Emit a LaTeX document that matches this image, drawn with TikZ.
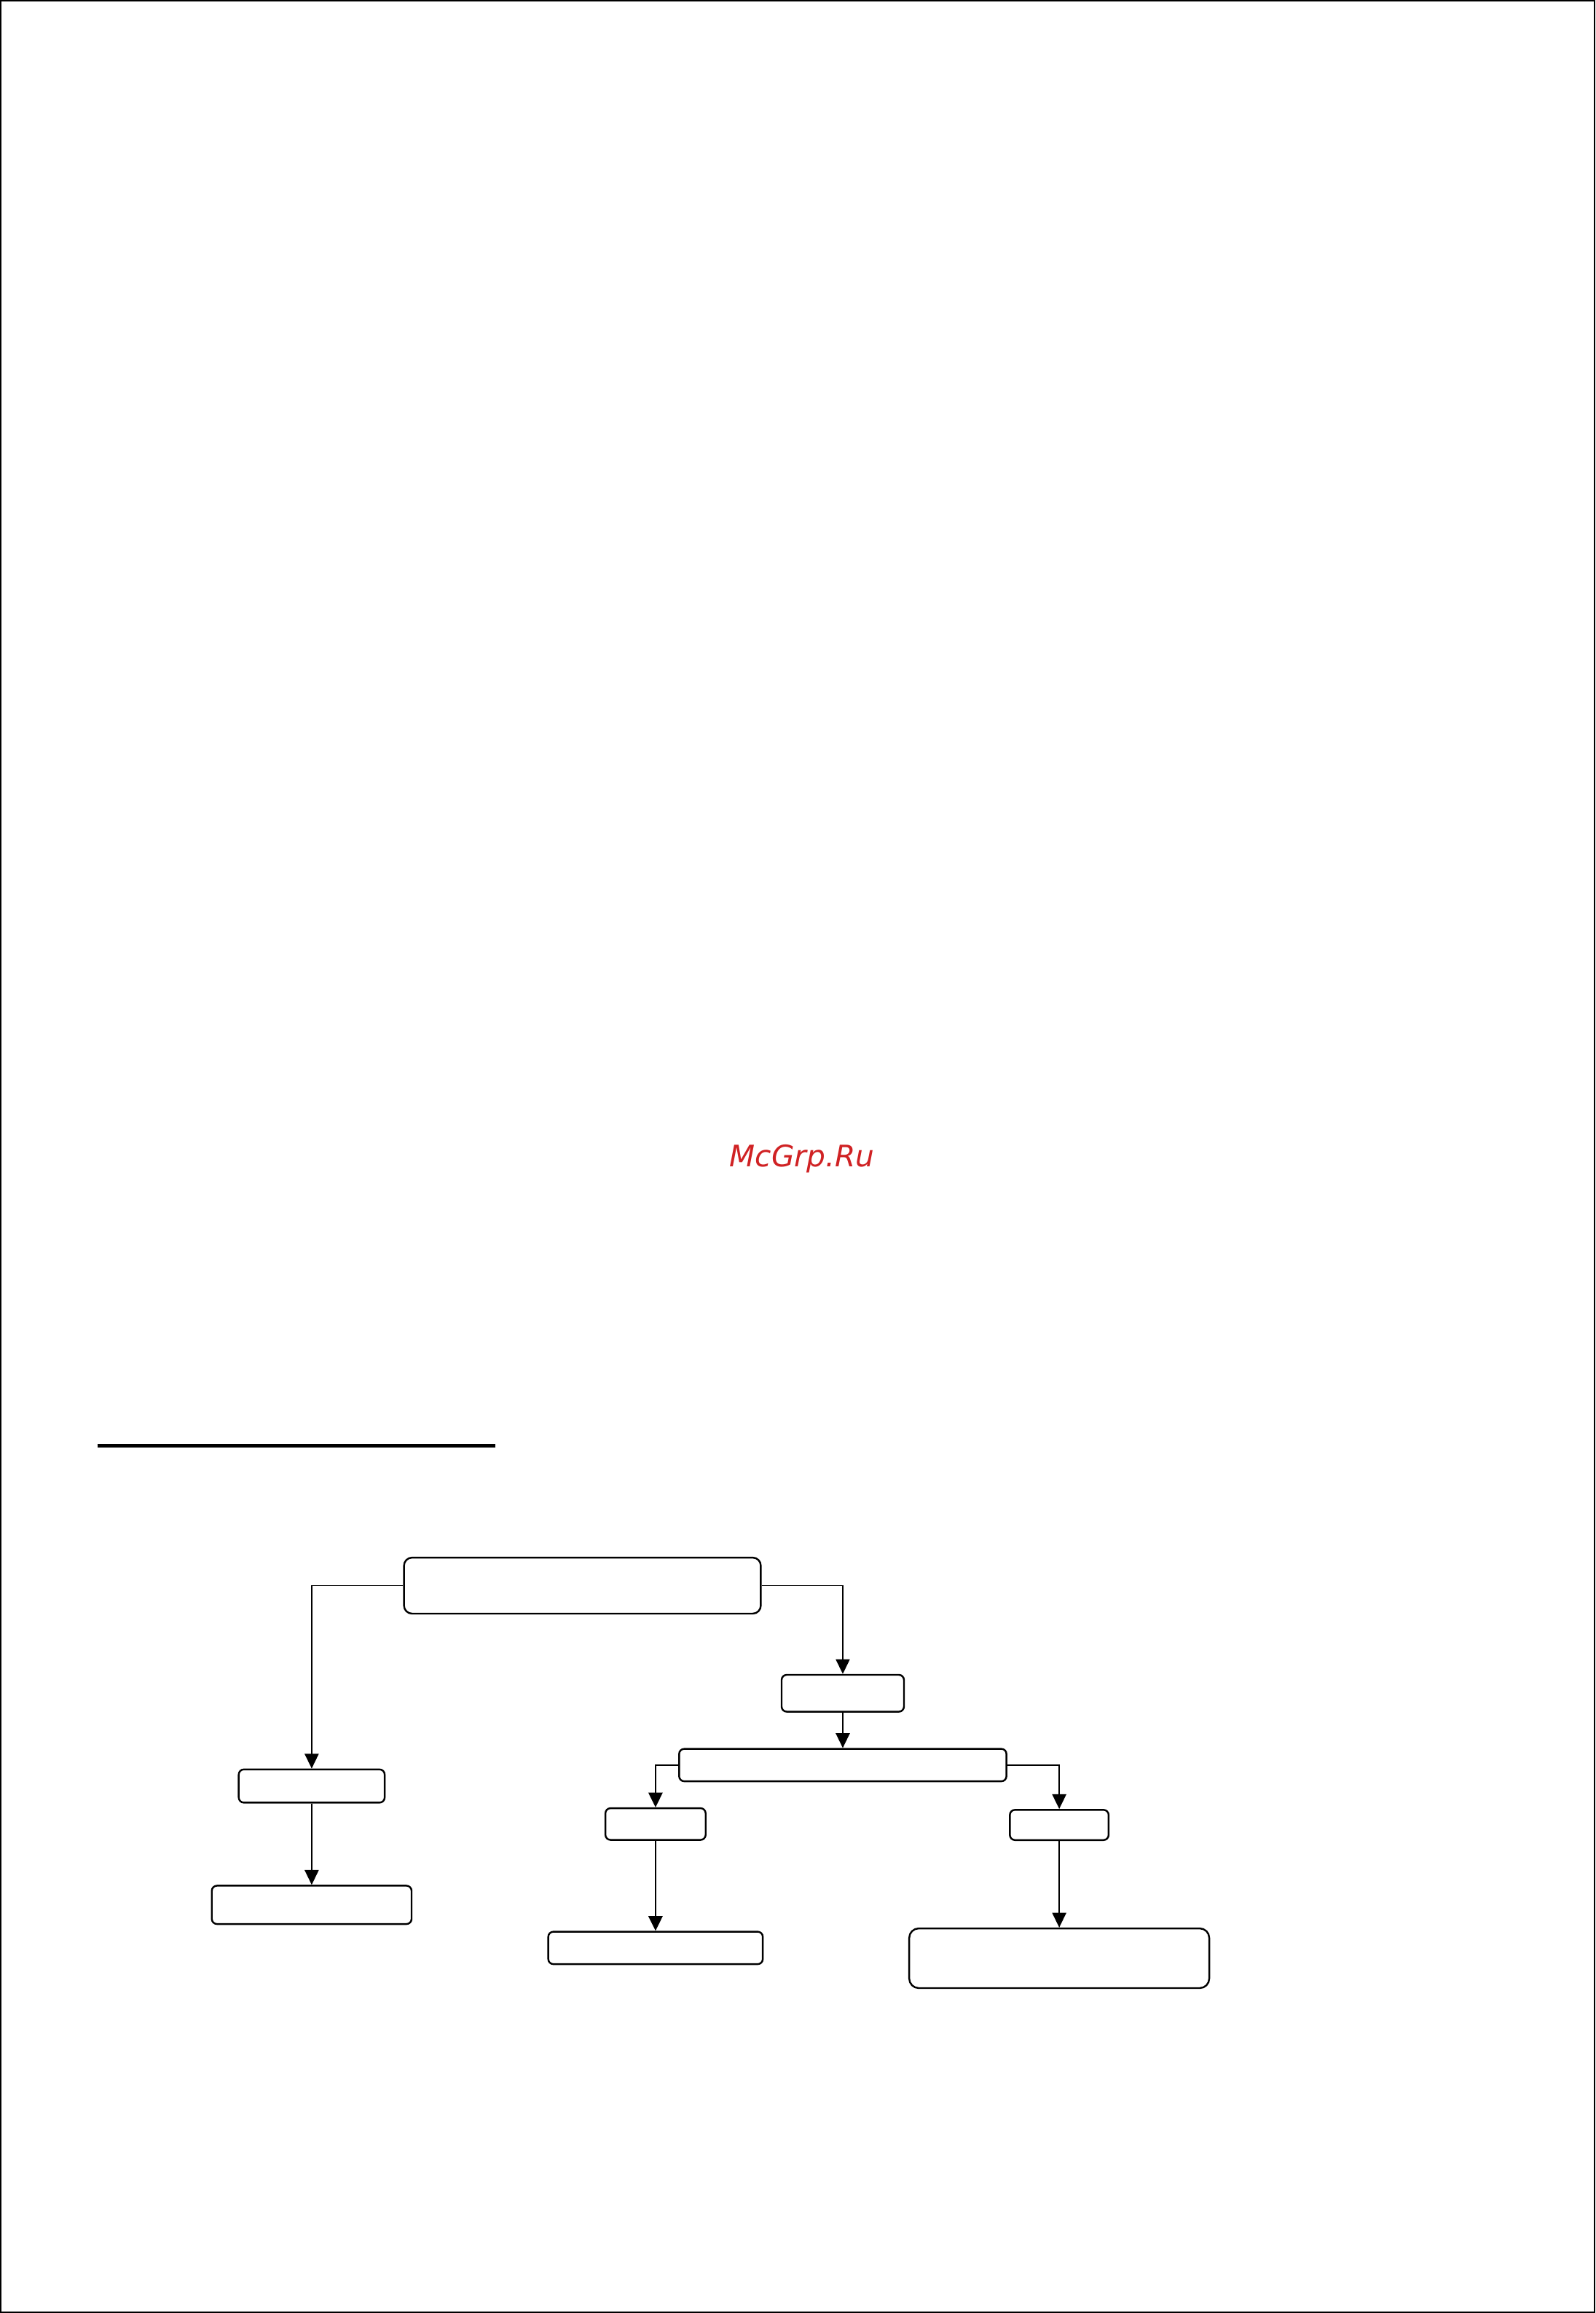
\documentclass[tikz,border=0pt]{standalone}
\usepackage{fontspec}
\usepackage{tikz}
\usetikzlibrary{arrows.meta,positioning}
\newfontfamily\markfont{DejaVu Sans}
\definecolor{markred}{RGB}{208,34,36}

\begin{document}
\begin{tikzpicture}[x=1pt,y=-1pt,on grid,
    box/.style={draw,line width=1.2pt,rounded corners=3.5pt,inner sep=0pt},
    link/.style={line width=0.8pt,-{Triangle[length=10pt,width=9.5pt]}},
    boldlink/.style={link,line width=1.3pt}]
   \useasboundingbox (0,0) rectangle (1082,1568.6);
   \draw[line width=1pt] (0.5,0.5) rectangle (1081.5,1568.1);
   \node[text=markred,anchor=base,font=\markfont\itshape\fontsize{20.1}{24}\selectfont] (mark) at (544,791) {McGrp.Ru};
   \draw[line width=2.8pt] (66,980.5) -- (336,980.5);
   % boxes
   \node[box,rounded corners=5.5pt,minimum width=242pt,minimum height=38pt] (root) at (395,1075.3) {};
   \node[box,minimum width=83pt,minimum height=25pt] (mid) [below right=73pt and 176.6pt of root] {};
   \node[box,minimum width=222pt,minimum height=22pt] (wide) [below=48.7pt of mid] {};
   \node[box,minimum width=68pt,minimum height=21.5pt] (subl) [below left=40pt and 127pt of wide] {};
   \node[box,minimum width=67pt,minimum height=20.5pt] (subr) [below right=40.6pt and 146.8pt of wide] {};
   \node[box,minimum width=145.5pt,minimum height=22pt] (leafl) [below=84pt of subl] {};
   \node[box,rounded corners=6.5pt,minimum width=203.5pt,minimum height=40.5pt] (leafr) [below=90.4pt of subr] {};
   \node[box,minimum width=99pt,minimum height=22.5pt] (side) [below left=135.9pt and 183.6pt of root] {};
   \node[box,minimum width=135.5pt,minimum height=26pt] (sideend) [below=80.6pt of side] {};
   % connectors
   \draw[link] (root.west) -| (side.north);
   \draw[link] (root.east) -| (mid.north);
   \draw[boldlink] (wide.west) -| (subl.north);
   \draw[link,line width=1pt] (wide.east) -| (subr.north);
   \path[link]
    (mid) edge (wide)
    (subr) edge (leafr)
    (side) edge (sideend);
   \path[boldlink] (subl) edge (leafl);
\end{tikzpicture}
\end{document}
